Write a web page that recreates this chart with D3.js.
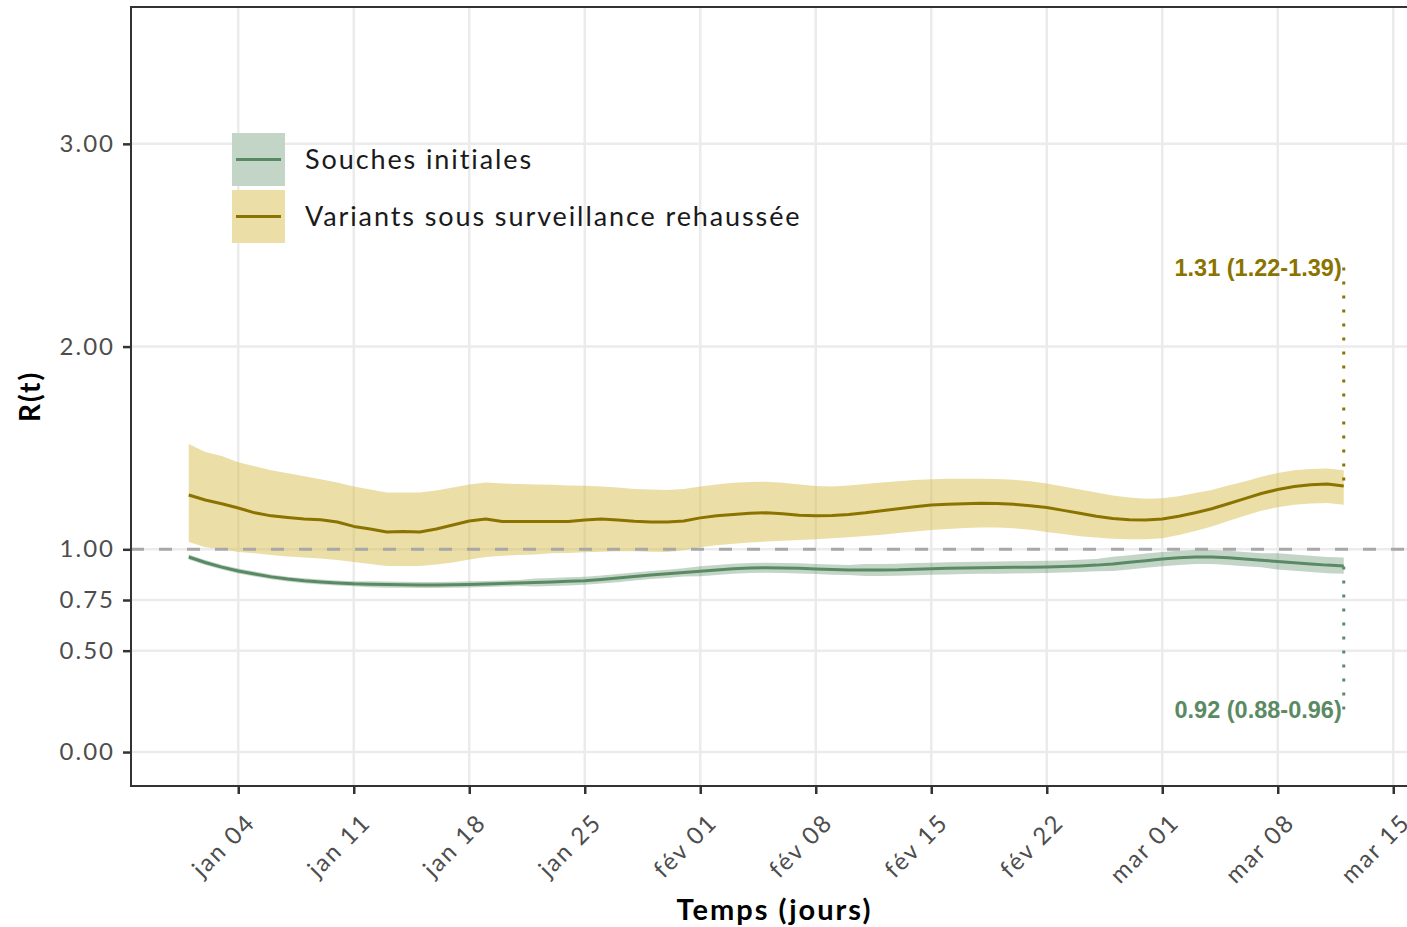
<!DOCTYPE html>
<html>
<head>
<meta charset="utf-8">
<script src="https://cdn.jsdelivr.net/npm/d3@7"></script>
<style>
  body { margin: 0; background: #fff; }
</style>
</head>
<body>
<div id="chart"></div>
<script>
let w = 1407;
let h = 927;

// data : daily R(t) estimates, jan 01 -> mar 12 2021
let startDate = new Date(2021, 0, 1);

let seriesNames = ["Souches initiales", "Variants sous surveillance rehaussée"];

let initialMid = [0.962,0.935,0.912,0.893,0.878,0.864,0.853,0.845,0.839,0.834,
  0.830,0.828,0.826,0.825,0.824,0.824,0.825,0.827,0.829,0.831,
  0.834,0.836,0.839,0.842,0.845,0.851,0.858,0.866,0.873,0.879,
  0.886,0.892,0.898,0.904,0.908,0.909,0.908,0.906,0.903,0.900,
  0.898,0.898,0.898,0.899,0.902,0.904,0.906,0.908,0.909,0.910,
  0.911,0.912,0.913,0.915,0.918,0.922,0.928,0.936,0.944,0.952,
  0.958,0.962,0.962,0.958,0.952,0.946,0.940,0.934,0.928,0.922,0.918];
let initialLow = [0.950,0.923,0.900,0.881,0.866,0.852,0.841,0.833,0.827,0.822,
  0.818,0.813,0.811,0.810,0.809,0.809,0.810,0.812,0.814,0.816,
  0.819,0.816,0.819,0.822,0.825,0.831,0.838,0.846,0.853,0.859,
  0.866,0.867,0.873,0.879,0.883,0.884,0.883,0.881,0.878,0.875,
  0.873,0.868,0.868,0.869,0.872,0.874,0.876,0.878,0.879,0.880,
  0.881,0.882,0.883,0.885,0.888,0.892,0.893,0.901,0.909,0.917,
  0.923,0.927,0.927,0.923,0.917,0.911,0.900,0.894,0.888,0.882,0.880];
let initialHigh = [0.974,0.947,0.924,0.905,0.890,0.876,0.865,0.857,0.851,0.846,
  0.842,0.843,0.841,0.840,0.839,0.839,0.840,0.842,0.844,0.846,
  0.849,0.856,0.859,0.862,0.865,0.871,0.878,0.886,0.893,0.899,
  0.906,0.917,0.923,0.929,0.933,0.934,0.933,0.931,0.928,0.925,
  0.923,0.928,0.928,0.929,0.932,0.934,0.936,0.938,0.939,0.940,
  0.941,0.942,0.943,0.945,0.948,0.952,0.963,0.971,0.979,0.987,
  0.993,0.997,0.997,0.993,0.987,0.981,0.980,0.974,0.968,0.962,0.960];

let variantMid = [1.268,1.243,1.225,1.204,1.180,1.165,1.157,1.150,1.146,1.135,
  1.113,1.100,1.085,1.088,1.085,1.100,1.120,1.140,1.150,1.137,
  1.137,1.137,1.137,1.137,1.145,1.150,1.145,1.138,1.135,1.135,
  1.140,1.155,1.165,1.172,1.178,1.180,1.175,1.168,1.165,1.167,
  1.172,1.180,1.190,1.200,1.210,1.218,1.222,1.225,1.227,1.226,
  1.222,1.215,1.206,1.192,1.178,1.163,1.152,1.146,1.145,1.150,
  1.163,1.180,1.200,1.225,1.250,1.275,1.295,1.310,1.318,1.322,1.312];
let variantLow = [1.036,1.010,1.000,0.987,0.980,0.972,0.965,0.960,0.955,0.947,
  0.938,0.928,0.918,0.918,0.918,0.925,0.935,0.950,0.962,0.968,
  0.972,0.975,0.980,0.982,0.985,0.988,0.990,0.990,0.988,0.987,
  0.995,1.010,1.020,1.028,1.034,1.038,1.042,1.046,1.050,1.054,
  1.060,1.066,1.072,1.080,1.088,1.095,1.100,1.105,1.108,1.108,
  1.104,1.096,1.085,1.075,1.065,1.058,1.052,1.050,1.050,1.055,
  1.070,1.090,1.112,1.140,1.165,1.190,1.208,1.220,1.226,1.228,1.220];
let variantHigh = [1.520,1.480,1.460,1.430,1.410,1.390,1.375,1.360,1.345,1.330,
  1.310,1.295,1.280,1.280,1.280,1.290,1.305,1.320,1.330,1.325,
  1.322,1.320,1.318,1.315,1.313,1.310,1.305,1.298,1.295,1.292,
  1.298,1.310,1.320,1.328,1.332,1.333,1.328,1.320,1.312,1.310,
  1.315,1.322,1.330,1.336,1.342,1.346,1.348,1.348,1.348,1.347,
  1.343,1.336,1.325,1.310,1.295,1.280,1.265,1.255,1.250,1.252,
  1.262,1.278,1.293,1.315,1.335,1.358,1.376,1.390,1.396,1.398,1.390];

let yTickValues = [0, 0.5, 0.75, 1, 2, 3];
let monthShort = ["jan","fév","mar","avr","mai","jun","jul","aoû","sep","oct","nov","déc"];
let endLabels = ["0.92 (0.88-0.96)", "1.31 (1.22-1.39)"];
let endLabelY = [0.21, 2.39];

let lineColors = ["#5a8a63", "#8b7300"];
let bandColors = ["#5a8a63", "#d8c050"];
let bandOpacity = [0.36, 0.5];

let frLocale = d3.timeFormatLocale({
  dateTime: "%A %e %B %Y à %X", date: "%d/%m/%Y", time: "%H:%M:%S",
  periods: ["AM", "PM"],
  days: ["dimanche","lundi","mardi","mercredi","jeudi","vendredi","samedi"],
  shortDays: ["dim.","lun.","mar.","mer.","jeu.","ven.","sam."],
  months: ["janvier","février","mars","avril","mai","juin","juillet","août","septembre","octobre","novembre","décembre"],
  shortMonths: monthShort
});
let fmtDate = frLocale.format("%b %d");

// build rows
function makeRows(mid, low, high){
  return mid.map(function(v, i){
    return {date: d3.timeDay.offset(startDate, i), mid: v, low: low[i], high: high[i]};
  });
}
let series = [makeRows(initialMid, initialLow, initialHigh), makeRows(variantMid, variantLow, variantHigh)];

let pLeft = 131, pRight = 1418, pTop = 7, pBottom = 786;

let viz = d3.select("#chart")
  .append("svg")
  .attr("width", w)
  .attr("height", h)
  .style("background-color", "white")
  .style("display", "block");

let xScale = d3.scaleTime()
  .domain([new Date(2020, 11, 28, 12), new Date(2021, 2, 16, 12)])
  .range([pLeft, pRight]);
let yScale = d3.scaleLinear()
  .domain([-0.1675, 3.675])
  .range([pBottom, pTop]);

let xTickValues = d3.timeMonday.range(new Date(2021, 0, 4), new Date(2021, 2, 16));

// grid
let grid = viz.append("g");
grid.selectAll(".vgrid").data(xTickValues).enter()
  .append("line")
  .attr("x1", d => xScale(d)).attr("x2", d => xScale(d))
  .attr("y1", pTop).attr("y2", pBottom)
  .attr("stroke", "#ebebeb").attr("stroke-width", 2.5);
grid.selectAll(".hgrid").data(yTickValues).enter()
  .append("line")
  .attr("x1", pLeft).attr("x2", pRight)
  .attr("y1", d => yScale(d)).attr("y2", d => yScale(d))
  .attr("stroke", "#ebebeb").attr("stroke-width", 2.5);

// bands
let area = d3.area()
  .x(d => xScale(d.date))
  .y0(d => yScale(d.low))
  .y1(d => yScale(d.high));
viz.selectAll(".band").data(series).enter()
  .append("path")
  .attr("d", area)
  .attr("fill", (d, i) => bandColors[i])
  .attr("fill-opacity", (d, i) => bandOpacity[i]);

// reference line R = 1
viz.append("line")
  .attr("x1", pLeft).attr("x2", pRight)
  .attr("y1", yScale(1)).attr("y2", yScale(1))
  .attr("stroke", "#a8a8a8")
  .attr("stroke-width", 3)
  .attr("stroke-dasharray", "13,15");

// lines
let line = d3.line()
  .x(d => xScale(d.date))
  .y(d => yScale(d.mid));
viz.selectAll(".rline").data(series).enter()
  .append("path")
  .attr("d", line)
  .attr("fill", "none")
  .attr("stroke", (d, i) => lineColors[i])
  .attr("stroke-width", 3)
  .attr("stroke-linejoin", "round");

// end labels with dotted leaders
series.forEach(function(s, i){
  let last = s[s.length - 1];
  let lx = xScale(last.date);
  viz.append("line")
    .attr("x1", lx).attr("x2", lx)
    .attr("y1", yScale(endLabelY[i])).attr("y2", yScale(last.mid))
    .attr("stroke", lineColors[i])
    .attr("stroke-width", 3)
    .attr("stroke-dasharray", "3,11");
  viz.append("text")
    .attr("x", lx - 2)
    .attr("y", yScale(endLabelY[i]))
    .attr("dy", "0.36em")
    .attr("text-anchor", "end")
    .attr("font-family", "'Liberation Sans', Arial, sans-serif")
    .attr("font-weight", "bold")
    .attr("font-size", 23.5)
    .attr("fill", lineColors[i])
    .text(endLabels[i]);
});

// panel border (right side falls off the page)
viz.append("rect")
  .attr("x", pLeft).attr("y", pTop)
  .attr("width", pRight - pLeft).attr("height", pBottom - pTop)
  .attr("fill", "none")
  .attr("stroke", "#333333")
  .attr("stroke-width", 2);

// axes
let yAxis = d3.axisLeft(yScale)
  .tickValues(yTickValues)
  .tickFormat(d3.format(".2f"))
  .tickSize(8)
  .tickPadding(8);
let yAxisGroup = viz.append("g")
  .attr("transform", "translate(" + pLeft + ",0)")
  .call(yAxis);

let xAxis = d3.axisBottom(xScale)
  .tickValues(xTickValues)
  .tickFormat(fmtDate)
  .tickSize(8);
let xAxisGroup = viz.append("g")
  .attr("transform", "translate(0," + pBottom + ")")
  .call(xAxis);

[xAxisGroup, yAxisGroup].forEach(function(g){
  g.select(".domain").remove();
  g.selectAll(".tick line").attr("stroke", "#333333").attr("stroke-width", 2.5);
  g.selectAll(".tick text")
    .attr("fill", "#4d4d4d")
    .attr("font-family", "Lato, sans-serif")
    .attr("font-size", 24)
    .attr("letter-spacing", "2px");
});

xAxisGroup.selectAll(".tick text")
  .attr("text-anchor", "end")
  .attr("y", 0).attr("dy", 0)
  .attr("transform", "translate(18,38) rotate(-45)");

// axis titles
viz.append("text")
  .attr("x", (pLeft + pRight) / 2)
  .attr("y", 920)
  .attr("text-anchor", "middle")
  .attr("font-family", "Lato, sans-serif")
  .attr("font-weight", "bold")
  .attr("font-size", 29)
  .attr("letter-spacing", "2px")
  .attr("fill", "#000")
  .text("Temps (jours)");

viz.append("text")
  .attr("transform", "translate(40," + ((pTop + pBottom) / 2) + ") rotate(-90)")
  .attr("text-anchor", "middle")
  .attr("font-family", "Lato, sans-serif")
  .attr("font-weight", "bold")
  .attr("font-size", 28)
  .attr("letter-spacing", "2px")
  .attr("fill", "#000")
  .text("R(t)");

// legend
let legend = viz.append("g").attr("transform", "translate(232,133)");
let keys = legend.selectAll(".key").data(seriesNames).enter()
  .append("g")
  .attr("transform", (d, i) => "translate(0," + (i * 57) + ")");
keys.append("rect")
  .attr("width", 53).attr("height", 53)
  .attr("fill", "white");
keys.append("rect")
  .attr("width", 53).attr("height", 53)
  .attr("fill", (d, i) => bandColors[i])
  .attr("fill-opacity", (d, i) => bandOpacity[i]);
keys.append("line")
  .attr("x1", 4).attr("x2", 49)
  .attr("y1", 26.5).attr("y2", 26.5)
  .attr("stroke", (d, i) => lineColors[i])
  .attr("stroke-width", 3);
keys.append("text")
  .attr("x", 73).attr("y", 26.5)
  .attr("dy", "0.35em")
  .attr("font-family", "Lato, sans-serif")
  .attr("font-size", 27)
  .attr("letter-spacing", "1.9px")
  .attr("fill", "#1a1a1a")
  .text(d => d);
</script>
</body>
</html>
